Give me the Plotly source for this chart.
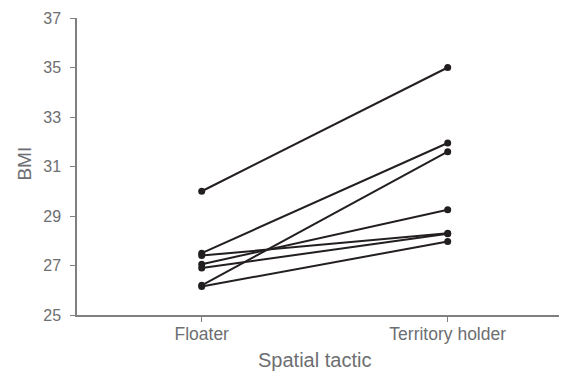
import plotly.graph_objects as go

categories = ["Floater", "Territory holder"]
floater_bmi = [30.0, 27.5, 26.2, 27.4, 27.05, 26.9, 26.15]
territory_bmi = [35.0, 31.95, 31.6, 28.3, 29.25, 28.28, 27.97]
y_ticks = [25, 27, 29, 31, 33, 35, 37]

fig = go.Figure()
for f, t in zip(floater_bmi, territory_bmi):
    fig.add_trace(go.Scatter(
        x=[0, 1], y=[f, t], mode="lines+markers",
        line=dict(color="#231f20", width=2),
        marker=dict(color="#231f20", size=7),
        showlegend=False, hoverinfo="skip"))

grey = "#6d6e71"
axis_grey = "#7f7f7f"
fig.update_layout(
    width=559, height=367,
    margin=dict(l=69, r=0, t=10, b=60),
    plot_bgcolor="white", paper_bgcolor="white",
    font=dict(family="Liberation Sans, Arial, sans-serif", color=grey, size=14),
    xaxis=dict(range=[-0.507, 1.485], tickvals=[0, 1], ticktext=categories,
               showgrid=False, zeroline=False, showline=True, linecolor=axis_grey,
               linewidth=1.5, ticks="outside", ticklen=5, tickcolor=axis_grey,
               tickfont=dict(size=17.5, color=grey), automargin=False,
               ticklabelstandoff=-3),
    yaxis=dict(range=[25, 37], tickvals=y_ticks, showgrid=False, zeroline=False,
               showline=True, linecolor=axis_grey, linewidth=1.5,
               ticks="outside", ticklen=5, tickcolor=axis_grey,
               tickfont=dict(size=16, color=grey), automargin=False,
               ticklabelstandoff=6),
    annotations=[
        dict(text="Spatial tactic", xref="paper", yref="paper", x=0.4857, y=-0.152,
             xanchor="center", yanchor="middle", showarrow=False,
             font=dict(size=20, color=grey)),
        dict(text="BMI", xref="paper", yref="paper", x=-0.108, y=0.51,
             xanchor="center", yanchor="middle", showarrow=False, textangle=-90,
             font=dict(size=19, color=grey)),
    ],
)
fig.write_html("out.html")
